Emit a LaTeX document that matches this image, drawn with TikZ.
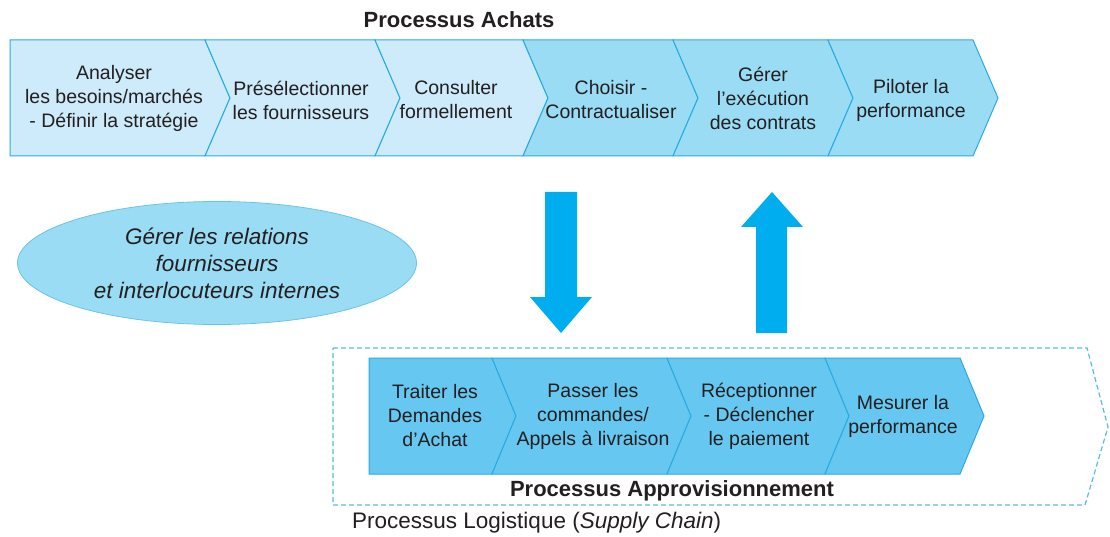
\documentclass[tikz,border=0pt]{standalone}
\usepackage{fontspec}
\setmainfont{Liberation Sans}
\usetikzlibrary{shapes.geometric}
\definecolor{achatLight}{HTML}{CDEBFA}
\definecolor{achatMid}{HTML}{9BDCF5}
\definecolor{approFill}{HTML}{66C8F1}
\definecolor{chevBorder}{HTML}{29ABE2}
\definecolor{bigArrow}{HTML}{00AEEF}
\definecolor{inkText}{HTML}{231F20}
\def\tipsep{25}

\begin{document}
\begin{tikzpicture}[x=1pt,y=-1pt]
    \tikzstyle{chevron}=[draw=chevBorder, line width=1pt, line join=miter]
    \tikzstyle{step text}=[align=center, inner sep=0pt, text=inkText, font=\fontsize{19.5}{24}\selectfont]
    \tikzstyle{title}=[inner sep=0pt, text=inkText, font=\bfseries\fontsize{22}{26}\selectfont]
    \tikzstyle{relation}=[ellipse, draw=chevBorder!70, fill=achatMid, line width=0.8pt, minimum width=399pt, minimum height=123pt, align=center, text=inkText, font=\itshape\fontsize{22.5}{27}\selectfont]
    \tikzstyle{block arrow}=[fill=bigArrow, draw=none]
    \useasboundingbox (0,0) rectangle (1110,537);

    % Draw the outline of the logistics process
    \draw[draw=chevBorder!80, line width=1.2pt, dash pattern=on 5pt off 3pt]
        (333,348) -- (1087,348) -- (1108,427) -- (1085,505) -- (333,505) -- cycle;

    % Draw the purchasing chevrons
    \foreach \xl / \n / \xr / \col in {10/0/205/achatLight, 205/\tipsep/375/achatLight, 375/\tipsep/523/achatLight,
                                         523/\tipsep/673/achatMid, 673/\tipsep/828/achatMid, 828/\tipsep/973/achatMid}
        \filldraw[chevron, fill=\col]
            (\xl,40) -- (\xr,40) -- (\xr+\tipsep,98) -- (\xr,156) -- (\xl,156) -- (\xl+\n,98) -- cycle;

    \node[step text] (A-1) at (114,98) {Analyser\\les besoins/marchés\\- Définir la stratégie};
    \node[step text] (A-2) at (301,100) {Présélectionner\\les fournisseurs};
    \node[step text] (A-3) at (456,100) {Consulter\\formellement};
    \node[step text] (A-4) at (611,100) {Choisir -\\Contractualiser};
    \node[step text] (A-5) at (763,98) {Gérer\\l’exécution\\des contrats};
    \node[step text] (A-6) at (911,100) {Piloter la\\performance};

    % Draw the supply chevrons
    \foreach \xl / \n / \xr in {369/0/492, 492/24/667, 667/24/825, 825/24/960}
        \filldraw[chevron, fill=approFill]
            (\xl,358) -- (\xr,358) -- (\xr+24,416) -- (\xr,474) -- (\xl,474) -- (\xl+\n,416) -- cycle;

    \node[step text] (P-1) at (435,416) {Traiter les\\Demandes\\d’Achat};
    \node[step text] (P-2) at (593,416) {Passer les\\commandes/\\Appels à livraison};
    \node[step text] (P-3) at (759,416) {Réceptionner\\- Déclencher\\le paiement};
    \node[step text] (P-4) at (903,416) {Mesurer la\\performance};

    % Draw the big arrows
    \fill[block arrow] (545,192) -- (577,192) -- (577,297) -- (592,297) -- (561,333)
        -- (530,297) -- (545,297) -- cycle;
    \fill[block arrow] (756,333) -- (787,333) -- (787,227) -- (803,227) -- (772,192)
        -- (741,227) -- (756,227) -- cycle;

    % Relations and titles
    \node[relation] (R) at (217,263) {Gérer les relations\\fournisseurs\\et interlocuteurs internes};
    \node[title] (T-achat) at (459,20) {Processus Achats};
    \node[title] (T-appro) at (672,491) {Processus Approvisionnement};
    \node[inner sep=0pt, anchor=west, text=inkText, font=\fontsize{22.5}{27}\selectfont]
        (T-log) at (352,523) {Processus Logistique (\textit{Supply Chain})};
\end{tikzpicture}
\end{document}
